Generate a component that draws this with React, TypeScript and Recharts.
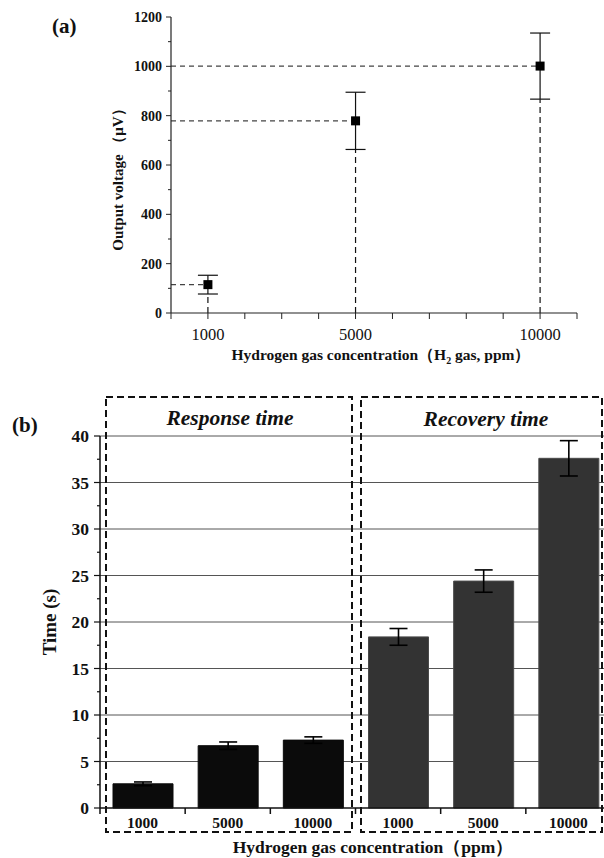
import React from 'react';
import {
  ScatterChart,
  Scatter,
  XAxis,
  YAxis,
  ErrorBar,
  ReferenceLine,
  BarChart,
  Bar,
  Cell,
  CartesianGrid,
} from 'recharts';

// ---------- data (panel a) ----------
const concentrations = [1000, 5000, 10000];
const outputVoltage = [115, 779, 1001];
const outputVoltageErr = [38, 116, 134];
const topXTicks = [0, 1000, 2000, 3000, 4000, 5000, 6000, 7000, 8000, 9000, 10000, 11000];
const topXLabels = [1000, 5000, 10000];
const topYTicks = [0, 100, 200, 300, 400, 500, 600, 700, 800, 900, 1000, 1100, 1200];

// ---------- data (panel b) ----------
const responseTime = [2.6, 6.7, 7.3];
const responseErr = [0.2, 0.4, 0.35];
const recoveryTime = [18.4, 24.4, 37.6];
const recoveryErr = [0.9, 1.2, 1.9];
const bottomYTicks = [0, 2.5, 5, 7.5, 10, 12.5, 15, 17.5, 20, 22.5, 25, 27.5, 30, 32.5, 35, 37.5, 40];
const bottomGridValues = [5, 10, 15, 20, 25, 30, 35, 40];

const FONT = "'Liberation Serif', 'Times New Roman', 'DejaVu Serif', serif";

const scatterData = concentrations.map((c, i) => ({
  x: c,
  y: outputVoltage[i],
  err: outputVoltageErr[i],
}));

const barData = [
  ...concentrations.map((c, i) => ({
    id: `resp-${c}`,
    label: String(c),
    group: 'response',
    time: responseTime[i],
    err: responseErr[i],
  })),
  ...concentrations.map((c, i) => ({
    id: `rec-${c}`,
    label: String(c),
    group: 'recovery',
    time: recoveryTime[i],
    err: recoveryErr[i],
  })),
];

// ---------- layout ----------
const B_WIDTH = 620;
const B_LEFT = 100;
const B_RIGHT_MARGIN = 9;
const B_PLOT_W = B_WIDTH - B_LEFT - B_RIGHT_MARGIN;
const B_STEP = B_PLOT_W / barData.length;

const TopXTick = (props: any) => {
  const { x, y, payload } = props;
  const v = payload.value;
  return (
    <g>
      <line x1={x} y1={y} x2={x} y2={y + 6} stroke="#222" strokeWidth={1} />
      {topXLabels.includes(v) && (
        <text x={x} y={y + 27} textAnchor="middle" fontSize={16.5} fontFamily={FONT} fill="#111">
          {v}
        </text>
      )}
    </g>
  );
};

const TopYTick = (props: any) => {
  const { x, y, payload } = props;
  const v = payload.value;
  const major = v % 200 === 0;
  return (
    <g>
      <line x1={x - (major ? 5 : 3)} y1={y} x2={x} y2={y} stroke="#222" strokeWidth={1} />
      {major && (
        <text x={x - 9} y={y + 5} textAnchor="end" fontSize={14} fontWeight="bold" fontFamily={FONT} fill="#111">
          {v}
        </text>
      )}
    </g>
  );
};

const BottomXTick = (props: any) => {
  const { x, y, payload } = props;
  const row = barData.find((d) => d.id === payload.value);
  const bx = x - B_STEP / 2;
  return (
    <g>
      <line x1={bx} y1={y} x2={bx} y2={y + 6} stroke="#111" strokeWidth={1.5} />
      <text x={x} y={y + 20} textAnchor="middle" fontSize={15.5} fontWeight="bold" fontFamily={FONT} fill="#111">
        {row ? row.label : ''}
      </text>
    </g>
  );
};

const BottomYTick = (props: any) => {
  const { x, y, payload } = props;
  const v = payload.value;
  const major = v % 5 === 0;
  return (
    <g>
      <line x1={x - (major ? 6 : 3)} y1={y} x2={x} y2={y} stroke="#111" strokeWidth={1.2} />
      {major && (
        <text x={x - 11} y={y + 6} textAnchor="end" fontSize={17.5} fontWeight="bold" fontFamily={FONT} fill="#111">
          {v}
        </text>
      )}
    </g>
  );
};

const SquareMarker = (props: any) => {
  const { cx, cy } = props;
  return <rect x={cx - 4.5} y={cy - 4.5} width={9} height={9} fill="#000" />;
};

export default function App() {
  return (
    <div
      style={{
        position: 'absolute',
        left: 0,
        top: 0,
        width: 604,
        height: 858,
        overflow: 'hidden',
        background: '#fff',
        fontFamily: FONT,
      }}
    >
      {/* Panel (a) */}
      <div style={{ position: 'absolute', left: 0, top: 0 }}>
        <ScatterChart width={604} height={400} margin={{ top: 17, right: 27, bottom: 47, left: 0 }}>
          <XAxis
            type="number"
            dataKey="x"
            domain={[0, 11000]}
            ticks={topXTicks}
            interval={0}
            height={40}
            tickSize={0}
            tickMargin={0}
            tick={<TopXTick />}
            axisLine={{ stroke: '#222', strokeWidth: 1.2 }}
            tickLine={false}
          />
          <YAxis
            type="number"
            dataKey="y"
            domain={[0, 1200]}
            ticks={topYTicks}
            interval={0}
            width={171}
            tickSize={0}
            tickMargin={0}
            tick={<TopYTick />}
            axisLine={{ stroke: '#222', strokeWidth: 1.2 }}
            tickLine={false}
          />
          {scatterData.map((d) => (
            <ReferenceLine
              key={`h-${d.x}`}
              segment={[
                { x: 0, y: d.y },
                { x: d.x, y: d.y },
              ]}
              stroke="#444"
              strokeWidth={1.3}
              strokeDasharray="5 4"
            />
          ))}
          {scatterData.map((d) => (
            <ReferenceLine
              key={`v-${d.x}`}
              segment={[
                { x: d.x, y: 0 },
                { x: d.x, y: d.y - d.err },
              ]}
              stroke="#111"
              strokeWidth={1.2}
              strokeDasharray="6 4"
            />
          ))}
          <Scatter data={scatterData} shape={<SquareMarker />} isAnimationActive={false}>
            <ErrorBar dataKey="err" direction="y" width={10} stroke="#111" strokeWidth={1.2} />
          </Scatter>
        </ScatterChart>
      </div>

      {/* Panel (b) */}
      <div style={{ position: 'absolute', left: 0, top: 380 }}>
        <BarChart
          width={B_WIDTH}
          height={478}
          data={barData}
          margin={{ top: 56, right: B_RIGHT_MARGIN, bottom: 20, left: 0 }}
          barSize={60}
        >
          <CartesianGrid
            horizontal={true}
            vertical={false}
            horizontalValues={bottomGridValues}
            stroke="#555"
            strokeWidth={1}
          />
          <XAxis
            dataKey="id"
            type="category"
            interval={0}
            height={30}
            tickSize={0}
            tickMargin={0}
            tick={<BottomXTick />}
            axisLine={{ stroke: '#111', strokeWidth: 1.5 }}
            tickLine={false}
          />
          <YAxis
            type="number"
            domain={[0, 40]}
            ticks={bottomYTicks}
            interval={0}
            width={B_LEFT}
            tickSize={0}
            tickMargin={0}
            tick={<BottomYTick />}
            axisLine={{ stroke: '#111', strokeWidth: 1.5 }}
            tickLine={false}
          />
          <Bar dataKey="time" isAnimationActive={false}>
            {barData.map((d) => (
              <Cell
                key={d.id}
                fill={d.group === 'response' ? '#0b0b0b' : '#333333'}
                stroke={d.group === 'response' ? '#0b0b0b' : '#4a4a4a'}
                strokeWidth={1}
              />
            ))}
            <ErrorBar dataKey="err" direction="y" width={9} stroke="#000" strokeWidth={1.6} />
          </Bar>
        </BarChart>
      </div>

      {/* Annotations */}
      <svg
        width={604}
        height={858}
        style={{ position: 'absolute', left: 0, top: 0, pointerEvents: 'none' }}
        fontFamily={FONT}
      >
        <text x={52} y={33} fontSize={21} fontWeight="bold" fill="#111">(a)</text>
        <text
          x={0}
          y={0}
          transform="translate(123,176) rotate(-90)"
          textAnchor="middle"
          fontSize={15}
          fontWeight="bold"
          fill="#111"
        >
          Output voltage （μV）
        </text>
        <text x={381} y={360} textAnchor="middle" fontSize={15.5} fontWeight="bold" fill="#111">
          Hydrogen gas concentration（H
          <tspan fontSize={10} dy={4}>2</tspan>
          <tspan dy={-4}> gas, ppm）</tspan>
        </text>

        <text x={12} y={432} fontSize={21} fontWeight="bold" fill="#111">(b)</text>
        <text
          x={0}
          y={0}
          transform="translate(56,622) rotate(-90)"
          textAnchor="middle"
          fontSize={19}
          fontWeight="bold"
          fill="#111"
        >
          Time (s)
        </text>
        <text x={230} y={425} textAnchor="middle" fontSize={21.5} fontWeight="bold" fontStyle="italic" fill="#111">
          Response time
        </text>
        <text x={486} y={426} textAnchor="middle" fontSize={21.5} fontWeight="bold" fontStyle="italic" fill="#111">
          Recovery time
        </text>
        <text x={373} y={853} textAnchor="middle" fontSize={17.5} fontWeight="bold" fill="#111">
          Hydrogen gas concentration（ppm）
        </text>
        <rect x={106} y={397} width={246} height={435} fill="none" stroke="#111" strokeWidth={2} strokeDasharray="7 4" />
        <rect x={361} y={397} width={241} height={435} fill="none" stroke="#111" strokeWidth={2} strokeDasharray="7 4" />
      </svg>
    </div>
  );
}
